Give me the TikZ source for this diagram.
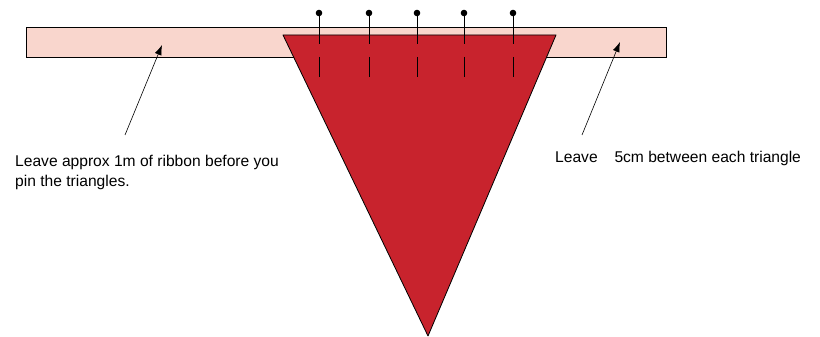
\documentclass[tikz,border=0pt]{standalone}
\usepackage{fontspec}
\setmainfont{Liberation Sans}
\usetikzlibrary{arrows.meta}
\definecolor{ribbon}{RGB}{249,214,205}
\definecolor{flag}{RGB}{200,35,45}

\begin{document}
\begin{tikzpicture}[x=1pt,y=-1pt]
\useasboundingbox (0,0) rectangle (820,337);
\tikzset{
  note/.style={font=\fontsize{15.6}{20}\selectfont,anchor=west,align=left,inner sep=0pt},
  pointer/.style={-{Latex[length=10pt,width=7pt]},semithick}
}
% ribbon and flag
\draw[fill=ribbon,thick] (26,27) rectangle (666,57);
\draw[fill=flag,thick,line join=round] (283,35) -- (556,35) -- (428,336) -- cycle;
% pins
\foreach \px in {319,369,417,464,513} {
  \fill[black] (\px,13) circle (3.3pt);
  \draw[semithick] (\px,13) -- (\px,44);
  \draw[semithick] (\px,57) -- (\px,77);
}
% notes
\node[note] (left) at (15,172) {Leave approx 1m of ribbon before you\\pin the triangles.};
\node[note] (right) at (555,158) {Leave\hspace{0.8em} 5cm between each triangle};
\coordinate (lfoot) at (125,135);
\coordinate (ltip) at (162,45);
\coordinate (rfoot) at (582,135);
\coordinate (rtip) at (620,42);
\draw[pointer] (lfoot) -- (ltip);
\draw[pointer] (rfoot) -- (rtip);
\end{tikzpicture}
\end{document}
